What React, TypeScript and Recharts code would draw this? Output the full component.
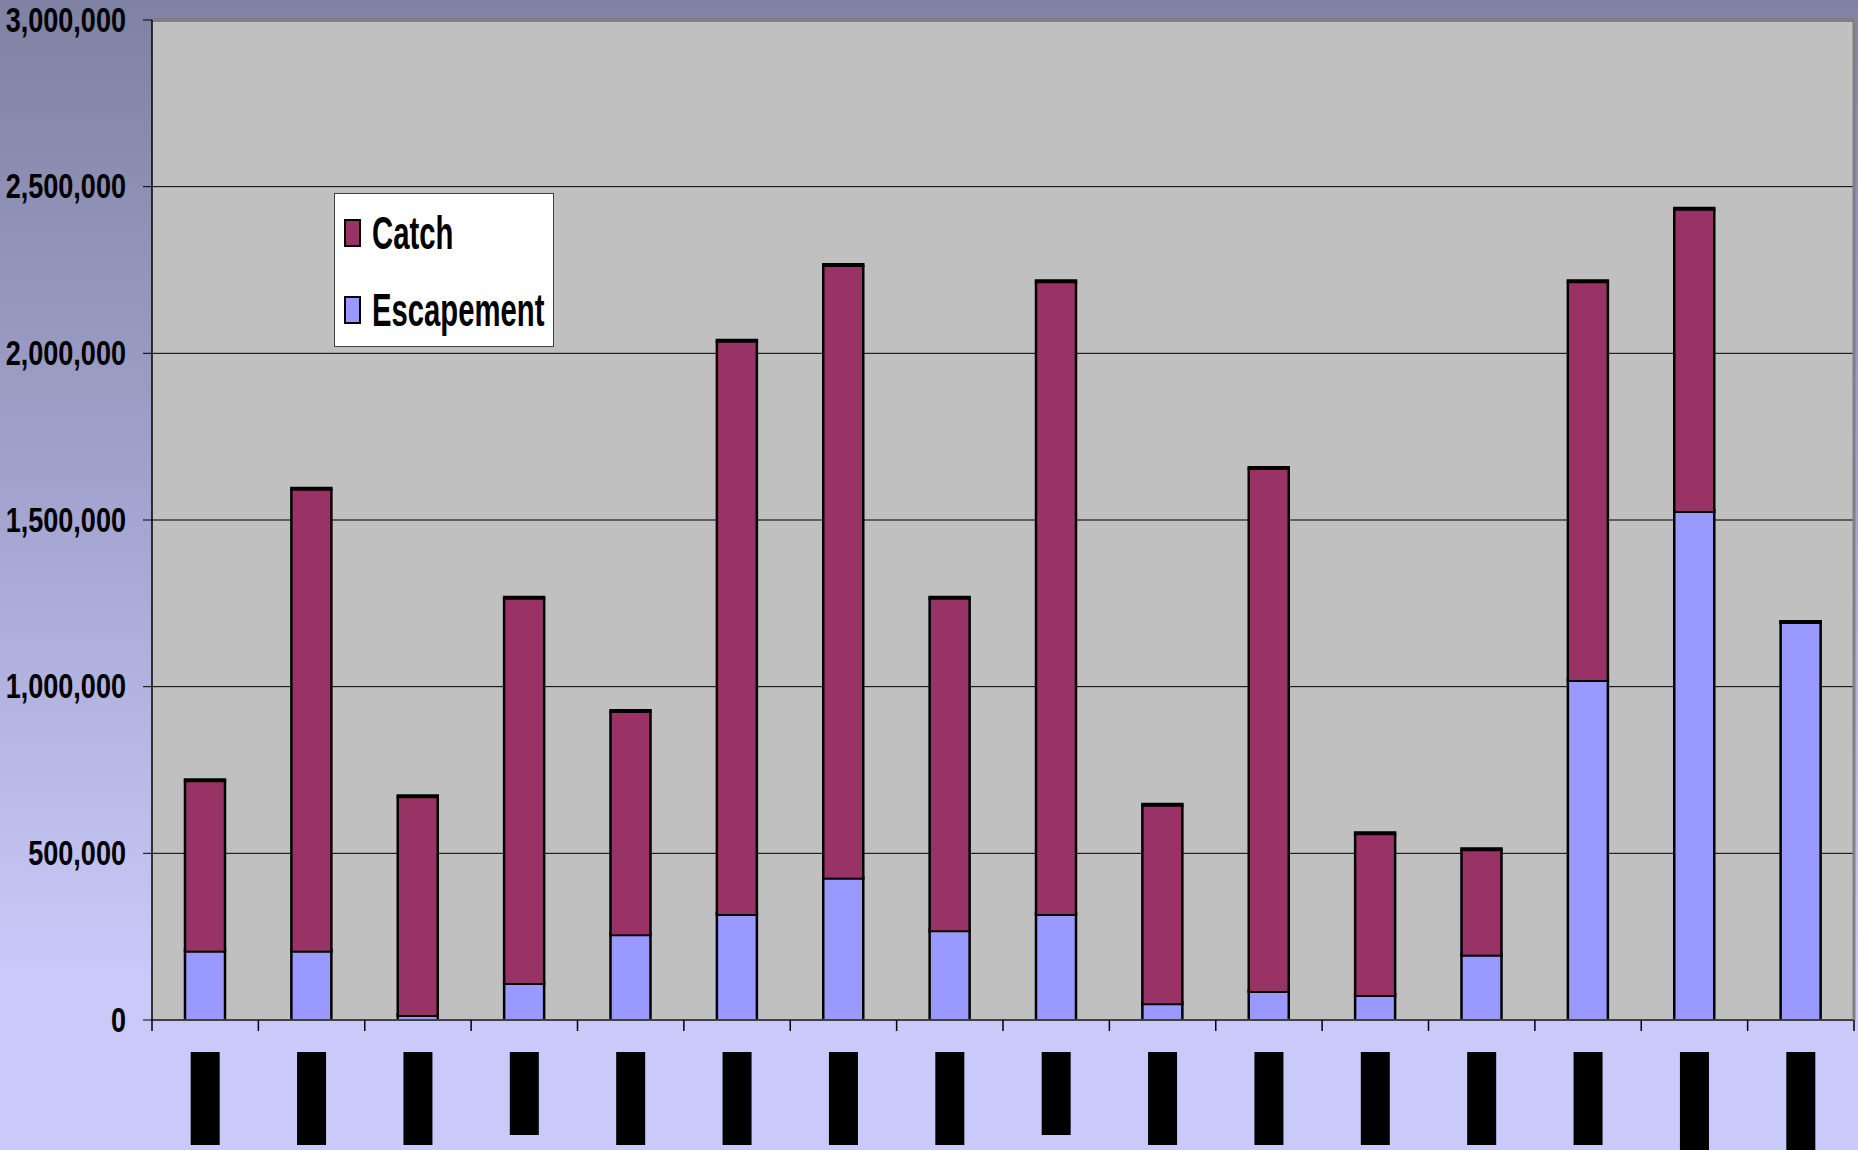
import React from 'react';
import { BarChart, Bar, XAxis, YAxis, CartesianGrid, Legend, ReferenceLine } from 'recharts';

// Category labels are redacted (black blocks) in the reference
const categories = ['c1', 'c2', 'c3', 'c4', 'c5', 'c6', 'c7', 'c8', 'c9', 'c10', 'c11', 'c12', 'c13', 'c14', 'c15', 'c16'];
const catchValues = [511000, 1386000, 656000, 1156000, 670000, 1720000, 1838000, 998000, 1898000, 596000, 1569000, 485000, 316000, 1196000, 907000, 0];
const escapementValues = [208000, 208000, 15000, 111000, 257000, 318000, 427000, 269000, 318000, 50000, 87000, 75000, 196000, 1020000, 1527000, 1194000];
const yTicks = [0, 500000, 1000000, 1500000, 2000000, 2500000, 3000000];
const redactedLabelLengths = [93, 93, 93, 83, 93, 93, 93, 93, 83, 93, 93, 93, 93, 93, 100, 100];

const data = categories.map((c, i) => ({ name: c, Catch: catchValues[i], Escapement: escapementValues[i] }));

const W = 1858;
const H = 1150;
const LEFT = 152;
const RIGHT = 4;
const BAND = (W - LEFT - RIGHT) / categories.length;
const FONT = '"Liberation Sans", Arial, sans-serif';

const CATCH_COLOR = '#993366';
const ESC_COLOR = '#9999FF';

function XTick(props: any) {
  const { x, y, index } = props;
  const h = redactedLabelLengths[index];
  return (
    <g>
      <line x1={x - BAND / 2} x2={x - BAND / 2} y1={y} y2={y + 11} stroke="#000" strokeWidth={1.5} />
      {index === categories.length - 1 && (
        <line x1={x + BAND / 2} x2={x + BAND / 2} y1={y} y2={y + 11} stroke="#000" strokeWidth={1.5} />
      )}
      <rect x={x - 14.5} y={y + 32} width={29} height={h} fill="#000" />
    </g>
  );
}

function YTick(props: any) {
  const { x, y, payload } = props;
  return (
    <text
      transform={`translate(${x},${y}) scale(0.82,1.06)`}
      textAnchor="end"
      dominantBaseline="central"
      fill="#000"
      fontSize={33}
      fontWeight="bold"
      fontFamily={FONT}
    >
      {Number(payload.value).toLocaleString('en-US')}
    </text>
  );
}

function OutlinedBar(props: any) {
  const { x, y, width, height, fill } = props;
  if (x == null || y == null || !width) return null;
  const h = Math.max(height || 0, 0);
  return (
    <g>
      <rect x={x} y={y} width={width} height={h} fill={fill} />
      <line x1={x} x2={x} y1={y} y2={y + h} stroke="#000" strokeWidth={2.5} />
      <line x1={x + width} x2={x + width} y1={y} y2={y + h} stroke="#000" strokeWidth={2.5} />
      <line x1={x - 1.25} x2={x + width + 1.25} y1={y} y2={y} stroke="#000" strokeWidth={4} />
    </g>
  );
}

function LegendContent() {
  const items = [
    { label: 'Catch', color: CATCH_COLOR },
    { label: 'Escapement', color: ESC_COLOR },
  ];
  return (
    <div
      style={{
        width: 220,
        height: 154,
        background: '#fff',
        border: '1px solid #404040',
        boxSizing: 'border-box',
        position: 'relative',
        fontFamily: FONT,
      }}
    >
      {items.map((it, i) => (
        <div key={it.label} style={{ position: 'absolute', left: 9, top: 24 + i * 77, height: 30, display: 'flex', alignItems: 'center' }}>
          <div style={{ width: 13, height: 24, background: it.color, border: '2px solid #000' }} />
          <span
            style={{
              marginLeft: 11,
              fontSize: 44,
              fontWeight: 'bold',
              color: '#000',
              display: 'inline-block',
              transform: 'scale(0.665, 1.05)',
              transformOrigin: 'left center',
              lineHeight: '30px',
              whiteSpace: 'nowrap',
            }}
          >
            {it.label}
          </span>
        </div>
      ))}
    </div>
  );
}

export default function App() {
  return (
    <div
      style={{
        position: 'absolute',
        left: 0,
        top: 0,
        width: W,
        height: H,
        background: 'linear-gradient(to bottom, #7F82A2 0%, #A4A5D0 45%, #CACAFA 85%, #CACAFA 100%)',
      }}
    >
      <BarChart width={W} height={H} data={data} margin={{ top: 20, right: 0, bottom: 0, left: 0 }} barSize={40}>
        <CartesianGrid vertical={false} stroke="#000" strokeWidth={1} fill="#C0C0C0" fillOpacity={1} />
        <XAxis
          dataKey="name"
          height={130}
          interval={0}
          tickLine={false}
          tickSize={0}
          tickMargin={0}
          tick={<XTick />}
          axisLine={{ stroke: '#404040', strokeWidth: 2 }}
        />
        <YAxis
          width={LEFT}
          domain={[0, 3000000]}
          ticks={yTicks}
          interval={0}
          tickSize={9}
          tickMargin={17}
          tickLine={{ stroke: '#000' }}
          axisLine={{ stroke: '#000', strokeWidth: 1.5 }}
          tick={<YTick />}
        />
        <YAxis yAxisId="r" orientation="right" width={RIGHT} tick={false} tickLine={false} axisLine={{ stroke: '#808080', strokeWidth: 3 }} />
        <ReferenceLine y={3000000} stroke="#808080" strokeWidth={4} />
        <Legend
          layout="vertical"
          align="center"
          verticalAlign="middle"
          content={<LegendContent />}
          wrapperStyle={{ left: 334, top: 193, width: 220, height: 154 }}
        />
        <Bar dataKey="Escapement" stackId="s" fill={ESC_COLOR} shape={<OutlinedBar />} isAnimationActive={false} />
        <Bar dataKey="Catch" stackId="s" fill={CATCH_COLOR} shape={<OutlinedBar />} isAnimationActive={false} />
      </BarChart>
    </div>
  );
}
